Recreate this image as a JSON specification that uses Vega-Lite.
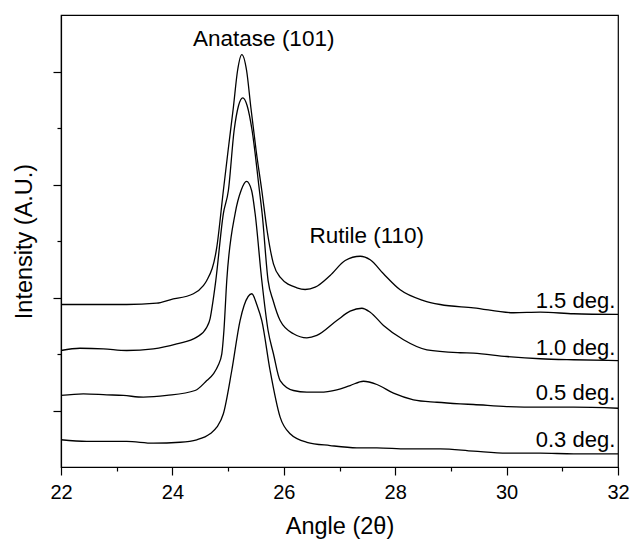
{
  "$schema": "https://vega.github.io/schema/vega-lite/v6.json",
  "width": 557,
  "height": 452,
  "autosize": {"type": "none"},
  "padding": {"left": 61, "top": 15, "right": 12, "bottom": 72},
  "background": "white",
  "config": {
    "view": {"stroke": "black", "strokeWidth": 1.2},
    "font": "Liberation Sans",
    "axis": {
      "domainColor": "black", "domainWidth": 1.2, "tickColor": "black", "tickWidth": 1.2,
      "grid": false, "labelColor": "black", "titleColor": "black",
      "labelFont": "Liberation Sans", "titleFont": "Liberation Sans",
      "labelFontSize": 20, "titleFontSize": 23.5, "titleFontWeight": "normal"
    }
  },
  "datasets": {
    "curves": [
      {"s": "1.5", "x": 22.000, "y": 0.938}, {"s": "1.5", "x": 22.580, "y": 0.938}, {"s": "1.5", "x": 23.180, "y": 0.938},
      {"s": "1.5", "x": 23.719, "y": 0.950}, {"s": "1.5", "x": 23.958, "y": 0.980}, {"s": "1.5", "x": 24.377, "y": 1.033},
      {"s": "1.5", "x": 24.556, "y": 1.106}, {"s": "1.5", "x": 24.617, "y": 1.150}, {"s": "1.5", "x": 24.797, "y": 1.445},
      {"s": "1.5", "x": 24.915, "y": 1.947}, {"s": "1.5", "x": 25.000, "y": 2.301}, {"s": "1.5", "x": 25.095, "y": 2.684},
      {"s": "1.5", "x": 25.170, "y": 3.009}, {"s": "1.5", "x": 25.246, "y": 3.150}, {"s": "1.5", "x": 25.332, "y": 3.009},
      {"s": "1.5", "x": 25.408, "y": 2.684}, {"s": "1.5", "x": 25.503, "y": 2.301}, {"s": "1.5", "x": 25.605, "y": 1.947},
      {"s": "1.5", "x": 25.700, "y": 1.593}, {"s": "1.5", "x": 25.814, "y": 1.298}, {"s": "1.5", "x": 25.934, "y": 1.180},
      {"s": "1.5", "x": 26.234, "y": 1.086}, {"s": "1.5", "x": 26.383, "y": 1.071}, {"s": "1.5", "x": 26.563, "y": 1.091},
      {"s": "1.5", "x": 26.832, "y": 1.195}, {"s": "1.5", "x": 27.102, "y": 1.327}, {"s": "1.5", "x": 27.371, "y": 1.365},
      {"s": "1.5", "x": 27.551, "y": 1.334}, {"s": "1.5", "x": 27.790, "y": 1.210}, {"s": "1.5", "x": 28.089, "y": 1.068},
      {"s": "1.5", "x": 28.508, "y": 0.973}, {"s": "1.5", "x": 28.808, "y": 0.938}, {"s": "1.5", "x": 29.406, "y": 0.909},
      {"s": "1.5", "x": 30.125, "y": 0.865}, {"s": "1.5", "x": 30.604, "y": 0.870}, {"s": "1.5", "x": 31.203, "y": 0.856},
      {"s": "1.5", "x": 32.000, "y": 0.850},

      {"s": "1.0", "x": 22.000, "y": 0.531}, {"s": "1.0", "x": 22.341, "y": 0.551}, {"s": "1.0", "x": 22.760, "y": 0.546},
      {"s": "1.0", "x": 23.180, "y": 0.531}, {"s": "1.0", "x": 23.658, "y": 0.546}, {"s": "1.0", "x": 24.078, "y": 0.590},
      {"s": "1.0", "x": 24.438, "y": 0.649}, {"s": "1.0", "x": 24.617, "y": 0.737}, {"s": "1.0", "x": 24.677, "y": 0.814},
      {"s": "1.0", "x": 24.730, "y": 0.973}, {"s": "1.0", "x": 24.779, "y": 1.150}, {"s": "1.0", "x": 24.915, "y": 1.743},
      {"s": "1.0", "x": 25.005, "y": 1.947}, {"s": "1.0", "x": 25.108, "y": 2.478}, {"s": "1.0", "x": 25.188, "y": 2.699},
      {"s": "1.0", "x": 25.264, "y": 2.767}, {"s": "1.0", "x": 25.341, "y": 2.699}, {"s": "1.0", "x": 25.431, "y": 2.478},
      {"s": "1.0", "x": 25.562, "y": 1.947}, {"s": "1.0", "x": 25.611, "y": 1.743}, {"s": "1.0", "x": 25.718, "y": 1.150},
      {"s": "1.0", "x": 25.808, "y": 0.973}, {"s": "1.0", "x": 25.934, "y": 0.796}, {"s": "1.0", "x": 26.173, "y": 0.679},
      {"s": "1.0", "x": 26.414, "y": 0.643}, {"s": "1.0", "x": 26.593, "y": 0.664}, {"s": "1.0", "x": 26.952, "y": 0.796},
      {"s": "1.0", "x": 27.191, "y": 0.879}, {"s": "1.0", "x": 27.401, "y": 0.905}, {"s": "1.0", "x": 27.551, "y": 0.870},
      {"s": "1.0", "x": 27.790, "y": 0.752}, {"s": "1.0", "x": 28.149, "y": 0.626}, {"s": "1.0", "x": 28.569, "y": 0.537},
      {"s": "1.0", "x": 29.167, "y": 0.511}, {"s": "1.0", "x": 29.406, "y": 0.507}, {"s": "1.0", "x": 30.006, "y": 0.478},
      {"s": "1.0", "x": 30.604, "y": 0.458}, {"s": "1.0", "x": 31.203, "y": 0.449}, {"s": "1.0", "x": 32.000, "y": 0.442},

      {"s": "0.5", "x": 22.000, "y": 0.133}, {"s": "0.5", "x": 22.401, "y": 0.148}, {"s": "0.5", "x": 22.821, "y": 0.139},
      {"s": "0.5", "x": 23.119, "y": 0.133}, {"s": "0.5", "x": 23.478, "y": 0.118}, {"s": "0.5", "x": 23.899, "y": 0.133},
      {"s": "0.5", "x": 24.407, "y": 0.177}, {"s": "0.5", "x": 24.617, "y": 0.265}, {"s": "0.5", "x": 24.736, "y": 0.325},
      {"s": "0.5", "x": 24.820, "y": 0.398}, {"s": "0.5", "x": 24.887, "y": 0.502}, {"s": "0.5", "x": 24.925, "y": 0.708},
      {"s": "0.5", "x": 24.976, "y": 1.150}, {"s": "0.5", "x": 25.126, "y": 1.743}, {"s": "0.5", "x": 25.233, "y": 1.947},
      {"s": "0.5", "x": 25.332, "y": 2.027}, {"s": "0.5", "x": 25.422, "y": 1.947}, {"s": "0.5", "x": 25.485, "y": 1.743},
      {"s": "0.5", "x": 25.605, "y": 1.150}, {"s": "0.5", "x": 25.718, "y": 0.708}, {"s": "0.5", "x": 25.814, "y": 0.502},
      {"s": "0.5", "x": 25.934, "y": 0.265}, {"s": "0.5", "x": 26.173, "y": 0.177}, {"s": "0.5", "x": 26.414, "y": 0.162},
      {"s": "0.5", "x": 26.652, "y": 0.162}, {"s": "0.5", "x": 26.952, "y": 0.183}, {"s": "0.5", "x": 27.191, "y": 0.221},
      {"s": "0.5", "x": 27.430, "y": 0.259}, {"s": "0.5", "x": 27.671, "y": 0.230}, {"s": "0.5", "x": 27.969, "y": 0.153},
      {"s": "0.5", "x": 28.328, "y": 0.095}, {"s": "0.5", "x": 28.749, "y": 0.073}, {"s": "0.5", "x": 29.167, "y": 0.059},
      {"s": "0.5", "x": 29.406, "y": 0.053}, {"s": "0.5", "x": 30.006, "y": 0.035}, {"s": "0.5", "x": 30.604, "y": 0.029},
      {"s": "0.5", "x": 31.203, "y": 0.029}, {"s": "0.5", "x": 32.000, "y": 0.020},

      {"s": "0.3", "x": 22.000, "y": -0.259}, {"s": "0.3", "x": 22.462, "y": -0.274}, {"s": "0.3", "x": 23.180, "y": -0.274},
      {"s": "0.3", "x": 23.658, "y": -0.289}, {"s": "0.3", "x": 24.138, "y": -0.281}, {"s": "0.3", "x": 24.438, "y": -0.259},
      {"s": "0.3", "x": 24.677, "y": -0.206}, {"s": "0.3", "x": 24.797, "y": -0.148}, {"s": "0.3", "x": 24.915, "y": -0.029},
      {"s": "0.3", "x": 25.066, "y": 0.354}, {"s": "0.3", "x": 25.215, "y": 0.796}, {"s": "0.3", "x": 25.287, "y": 0.929},
      {"s": "0.3", "x": 25.426, "y": 1.033}, {"s": "0.3", "x": 25.521, "y": 0.929}, {"s": "0.3", "x": 25.605, "y": 0.796},
      {"s": "0.3", "x": 25.754, "y": 0.354}, {"s": "0.3", "x": 25.934, "y": -0.059}, {"s": "0.3", "x": 26.113, "y": -0.206},
      {"s": "0.3", "x": 26.414, "y": -0.281}, {"s": "0.3", "x": 26.832, "y": -0.310}, {"s": "0.3", "x": 27.312, "y": -0.330},
      {"s": "0.3", "x": 27.671, "y": -0.330}, {"s": "0.3", "x": 28.210, "y": -0.339}, {"s": "0.3", "x": 28.808, "y": -0.339},
      {"s": "0.3", "x": 29.406, "y": -0.360}, {"s": "0.3", "x": 30.006, "y": -0.378}, {"s": "0.3", "x": 30.604, "y": -0.378},
      {"s": "0.3", "x": 31.203, "y": -0.383}, {"s": "0.3", "x": 32.000, "y": -0.383}
    ],
    "peaks": [
      {"t": "Anatase (101)", "x": 24.371, "y": 3.230},
      {"t": "Rutile (110)", "x": 26.460, "y": 1.478}
    ],
    "tags": [
      {"t": "1.5 deg.", "x": 31.951, "y": 0.903},
      {"t": "1.0 deg.", "x": 31.951, "y": 0.493},
      {"t": "0.5 deg.", "x": 31.951, "y": 0.089},
      {"t": "0.3 deg.", "x": 31.951, "y": -0.325}
    ]
  },
  "layer": [
    {
      "data": {"name": "curves"},
      "mark": {"type": "line", "color": "black", "strokeWidth": 1.3, "interpolate": "monotone"},
      "encoding": {
        "x": {
          "field": "x", "type": "quantitative",
          "scale": {"domain": [22, 32], "nice": false, "zero": false},
          "axis": {
            "title": "Angle (2θ)",
            "values": [22, 23, 24, 25, 26, 27, 28, 29, 30, 31, 32],
            "labelExpr": "datum.value % 2 === 0 ? datum.label : ''",
            "tickSize": {"condition": {"test": "datum.value % 2 === 0", "value": 8}, "value": 4},
            "labelPadding": 7, "titlePadding": 12, "labelFlush": false, "labelOverlap": false
          }
        },
        "y": {
          "field": "y", "type": "quantitative",
          "scale": {"domain": [-0.5, 3.5], "nice": false, "zero": false},
          "axis": {
            "title": "Intensity (A.U.)",
            "values": [0, 0.5, 1, 1.5, 2, 2.5, 3],
            "labels": false,
            "tickSize": {"condition": {"test": "datum.value % 1 === 0", "value": 8}, "value": 4},
            "titlePadding": 16
          }
        },
        "detail": {"field": "s", "type": "nominal"}
      }
    },
    {
      "data": {"name": "peaks"},
      "mark": {"type": "text", "align": "left", "baseline": "alphabetic", "fontSize": 22.5, "font": "Liberation Sans", "color": "black"},
      "encoding": {
        "x": {"field": "x", "type": "quantitative"},
        "y": {"field": "y", "type": "quantitative"},
        "text": {"field": "t", "type": "nominal"}
      }
    },
    {
      "data": {"name": "tags"},
      "mark": {"type": "text", "align": "right", "baseline": "alphabetic", "fontSize": 22, "font": "Liberation Sans", "color": "black"},
      "encoding": {
        "x": {"field": "x", "type": "quantitative"},
        "y": {"field": "y", "type": "quantitative"},
        "text": {"field": "t", "type": "nominal"}
      }
    }
  ]
}
